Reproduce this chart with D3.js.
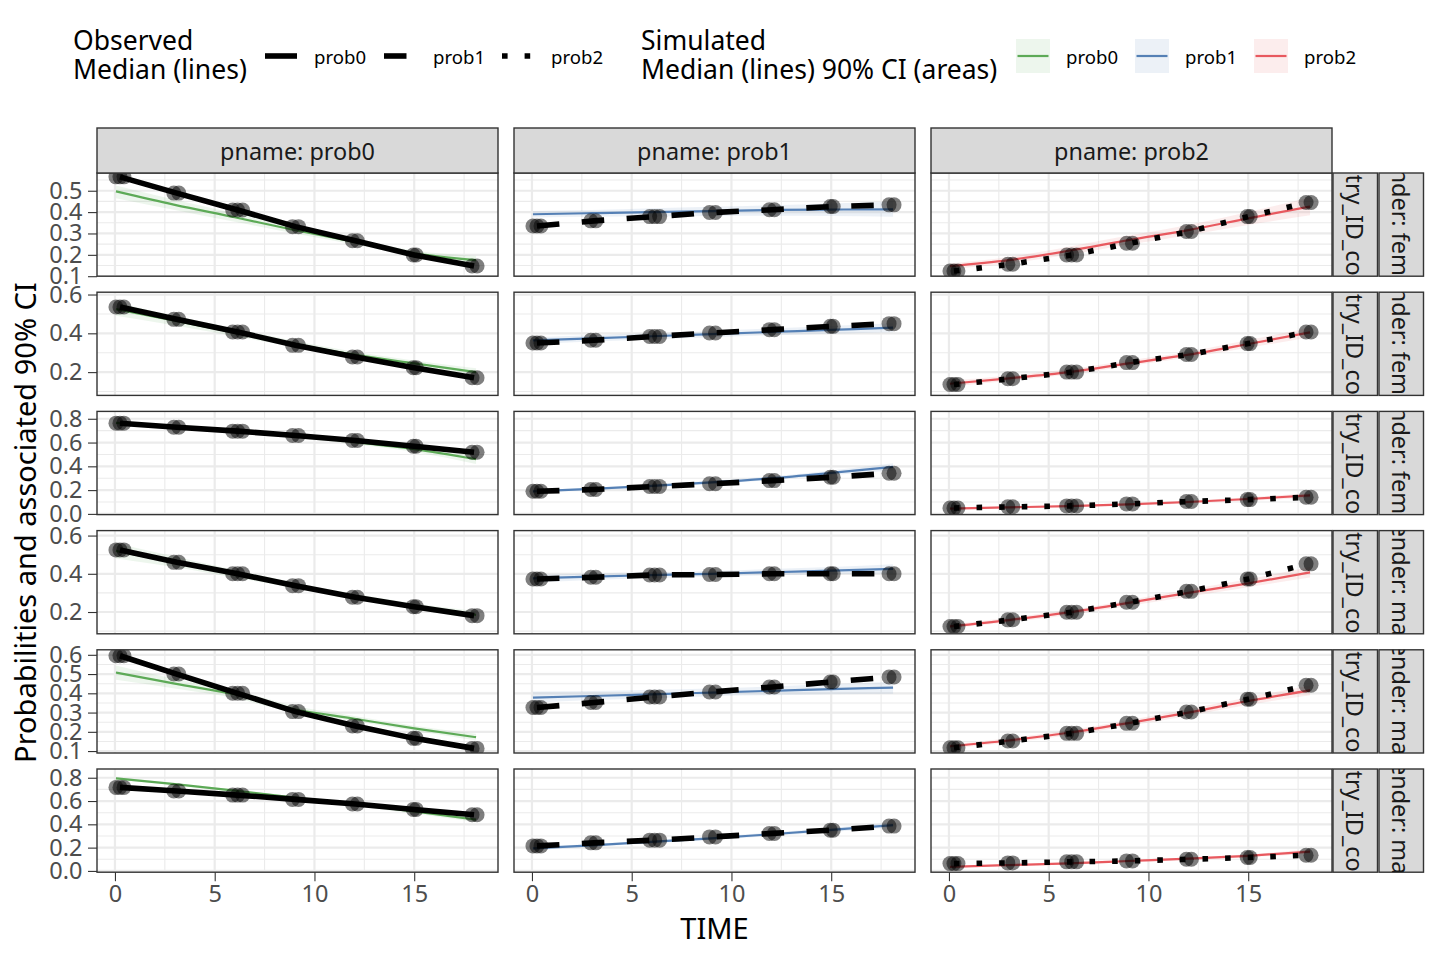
<!DOCTYPE html>
<html>
<head>
<meta charset="utf-8">
<script src="https://cdn.jsdelivr.net/npm/d3@7"></script>
<style>
  body { margin: 0; background: #fff; }
  svg text { font-family: "Noto Sans", "Open Sans", sans-serif; }
</style>
</head>
<body>
<div id="chart"></div>
<script>
// facets
const colLabels = ["pname: prob0", "pname: prob1", "pname: prob2"];
const rowLabels1 = ["country_ID_code: 1", "country_ID_code: 2", "country_ID_code: 3",
                    "country_ID_code: 1", "country_ID_code: 2", "country_ID_code: 3"];
const rowLabels2 = ["gender: female", "gender: female", "gender: female",
                    "gender: male", "gender: male", "gender: male"];

// y-axis per row (free scales by row)
const rowDomains = [[0.1, 0.583], [0.08, 0.612], [-0.006, 0.862],
                    [0.086, 0.626], [0.09, 0.626], [-0.011, 0.875]];
const rowTicks = [[0.1, 0.2, 0.3, 0.4, 0.5], [0.2, 0.4, 0.6], [0, 0.2, 0.4, 0.6, 0.8],
                  [0.2, 0.4, 0.6], [0.1, 0.2, 0.3, 0.4, 0.5, 0.6], [0, 0.2, 0.4, 0.6, 0.8]];
const xTicks = [0, 5, 10, 15];

// observed medians
const obsTime = [0.25, 3.1, 6.15, 9.05, 12.05, 15.0, 18.0];
const obsPointTimes = [[0.05, 0.25, 0.45], [2.95, 3.2], [5.9, 6.15, 6.4], [8.9, 9.2],
                       [11.9, 12.15], [14.95, 15.1], [17.9, 18.15]];
const obsProb0 = [
  [0.565, 0.489, 0.41, 0.332, 0.266, 0.199, 0.148],
  [0.536, 0.472, 0.407, 0.338, 0.278, 0.223, 0.171],
  [0.763, 0.729, 0.696, 0.659, 0.617, 0.569, 0.519],
  [0.525, 0.46, 0.40, 0.338, 0.277, 0.228, 0.181],
  [0.595, 0.50, 0.40, 0.305, 0.23, 0.166, 0.114],
  [0.717, 0.686, 0.651, 0.614, 0.574, 0.528, 0.482]];
const obsProb1 = [
  [0.335, 0.359, 0.379, 0.398, 0.411, 0.426, 0.434],
  [0.35, 0.364, 0.384, 0.402, 0.419, 0.436, 0.45],
  [0.19, 0.205, 0.23, 0.253, 0.28, 0.308, 0.342],
  [0.373, 0.382, 0.394, 0.396, 0.40, 0.40, 0.40],
  [0.326, 0.352, 0.381, 0.407, 0.433, 0.459, 0.485],
  [0.215, 0.241, 0.264, 0.292, 0.322, 0.35, 0.385]];
const obsProb2 = [
  [0.124, 0.156, 0.199, 0.254, 0.309, 0.379, 0.445],
  [0.136, 0.166, 0.20, 0.249, 0.291, 0.347, 0.407],
  [0.05, 0.059, 0.067, 0.084, 0.104, 0.12, 0.14],
  [0.124, 0.159, 0.199, 0.251, 0.308, 0.373, 0.452],
  [0.117, 0.152, 0.192, 0.244, 0.303, 0.369, 0.442],
  [0.063, 0.069, 0.078, 0.086, 0.10, 0.115, 0.135]];

// simulated median and 90% CI
const simTime = [0.05, 3, 6, 9, 12, 15, 18.1];
const simMed0 = [
  [0.497, 0.434, 0.376, 0.316, 0.261, 0.207, 0.175],
  [0.525, 0.465, 0.405, 0.345, 0.29, 0.245, 0.2],
  [0.765, 0.735, 0.70, 0.655, 0.605, 0.545, 0.46],
  [0.52, 0.46, 0.40, 0.34, 0.28, 0.23, 0.185],
  [0.508, 0.45, 0.395, 0.317, 0.268, 0.218, 0.172],
  [0.795, 0.745, 0.69, 0.63, 0.575, 0.51, 0.44]];
const simLo0 = [
  [0.465, 0.41, 0.355, 0.30, 0.248, 0.196, 0.155],
  [0.49, 0.44, 0.385, 0.33, 0.275, 0.23, 0.18],
  [0.75, 0.72, 0.685, 0.64, 0.585, 0.52, 0.42],
  [0.48, 0.435, 0.38, 0.325, 0.265, 0.215, 0.165],
  [0.47, 0.425, 0.375, 0.30, 0.255, 0.205, 0.155],
  [0.785, 0.735, 0.68, 0.62, 0.56, 0.49, 0.42]];
const simHi0 = [
  [0.525, 0.458, 0.395, 0.33, 0.275, 0.22, 0.195],
  [0.56, 0.49, 0.425, 0.36, 0.305, 0.26, 0.22],
  [0.78, 0.75, 0.715, 0.67, 0.625, 0.565, 0.49],
  [0.56, 0.49, 0.42, 0.355, 0.295, 0.245, 0.205],
  [0.545, 0.475, 0.415, 0.335, 0.282, 0.232, 0.19],
  [0.805, 0.755, 0.70, 0.64, 0.59, 0.53, 0.46]];
const simMed1 = [
  [0.39, 0.395, 0.40, 0.405, 0.41, 0.412, 0.413],
  [0.364, 0.374, 0.385, 0.396, 0.407, 0.418, 0.429],
  [0.19, 0.21, 0.235, 0.265, 0.30, 0.345, 0.395],
  [0.376, 0.385, 0.393, 0.40, 0.408, 0.417, 0.426],
  [0.378, 0.386, 0.395, 0.404, 0.413, 0.422, 0.43],
  [0.193, 0.22, 0.25, 0.28, 0.315, 0.352, 0.393]];
const simLo1 = [
  [0.375, 0.378, 0.38, 0.382, 0.383, 0.382, 0.378],
  [0.345, 0.358, 0.37, 0.38, 0.39, 0.398, 0.405],
  [0.18, 0.20, 0.225, 0.252, 0.285, 0.325, 0.365],
  [0.355, 0.368, 0.378, 0.386, 0.392, 0.398, 0.402],
  [0.35, 0.365, 0.375, 0.385, 0.39, 0.395, 0.398],
  [0.18, 0.208, 0.238, 0.268, 0.30, 0.335, 0.372]];
const simHi1 = [
  [0.405, 0.41, 0.418, 0.425, 0.432, 0.44, 0.45],
  [0.38, 0.39, 0.40, 0.412, 0.425, 0.438, 0.452],
  [0.20, 0.22, 0.245, 0.278, 0.315, 0.365, 0.425],
  [0.395, 0.402, 0.408, 0.415, 0.425, 0.436, 0.45],
  [0.41, 0.412, 0.418, 0.425, 0.435, 0.448, 0.46],
  [0.206, 0.232, 0.262, 0.293, 0.33, 0.37, 0.415]];
const simMed2 = [
  [0.147, 0.175, 0.219, 0.269, 0.316, 0.371, 0.426],
  [0.14, 0.168, 0.20, 0.245, 0.29, 0.345, 0.405],
  [0.045, 0.055, 0.065, 0.08, 0.10, 0.125, 0.155],
  [0.125, 0.158, 0.198, 0.248, 0.30, 0.35, 0.407],
  [0.125, 0.155, 0.195, 0.245, 0.30, 0.36, 0.415],
  [0.035, 0.05, 0.065, 0.085, 0.105, 0.13, 0.165]];
const simLo2 = [
  [0.135, 0.16, 0.20, 0.248, 0.292, 0.34, 0.385],
  [0.125, 0.155, 0.188, 0.232, 0.275, 0.325, 0.38],
  [0.04, 0.048, 0.057, 0.07, 0.088, 0.11, 0.135],
  [0.115, 0.146, 0.185, 0.232, 0.28, 0.33, 0.38],
  [0.115, 0.143, 0.182, 0.23, 0.283, 0.34, 0.39],
  [0.03, 0.043, 0.057, 0.075, 0.094, 0.117, 0.145]];
const simHi2 = [
  [0.16, 0.19, 0.238, 0.29, 0.34, 0.40, 0.47],
  [0.155, 0.182, 0.215, 0.26, 0.305, 0.365, 0.43],
  [0.05, 0.062, 0.073, 0.09, 0.112, 0.14, 0.175],
  [0.135, 0.17, 0.21, 0.262, 0.318, 0.372, 0.435],
  [0.135, 0.167, 0.208, 0.26, 0.317, 0.38, 0.44],
  [0.04, 0.057, 0.073, 0.095, 0.116, 0.143, 0.185]];

const obsByCol = [obsProb0, obsProb1, obsProb2];
const medByCol = [simMed0, simMed1, simMed2];
const loByCol = [simLo0, simLo1, simLo2];
const hiByCol = [simHi0, simHi1, simHi2];
const probNames = ["prob0", "prob1", "prob2"];
const simColors = ["#5DAA57", "#5580B5", "#E8595F"];
const dashes = [null, "22.5,22.5", "5.6,17"];

const width = 1440, height = 960;
const marginLeft = 97, marginTop = 173, panelW = 401, panelH = 103.2, gap = 16;

const svg = d3.select("#chart").append("svg")
  .attr("width", width).attr("height", height);

const x = d3.scaleLinear().domain([-0.9, 19.2]).range([0, panelW]);

const defs = svg.append("defs");
defs.append("clipPath").attr("id", "panelClip")
  .append("rect").attr("width", panelW).attr("height", panelH);

function minorTicks(ticks, domain) {
  const step = ticks[1] - ticks[0];
  const out = [];
  for (let v = ticks[0] - step / 2; v <= domain[1]; v += step) {
    if (v >= domain[0]) out.push(v);
  }
  return out;
}

rowDomains.forEach((dom, r) => {
  const py = marginTop + r * (panelH + gap);
  const y = d3.scaleLinear().domain(dom).range([panelH, 0]);

  colLabels.forEach((lab, c) => {
    const px = marginLeft + c * (panelW + gap);
    const g = svg.append("g").attr("transform", `translate(${px},${py})`);
    const inner = g.append("g").attr("clip-path", "url(#panelClip)");

    // grid
    inner.selectAll(".ymin").data(minorTicks(rowTicks[r], dom)).join("line")
      .attr("x1", 0).attr("x2", panelW).attr("y1", y).attr("y2", y)
      .attr("stroke", "#EBEBEB").attr("stroke-width", 1.1);
    inner.selectAll(".xmin").data([2.5, 7.5, 12.5, 17.5]).join("line")
      .attr("y1", 0).attr("y2", panelH).attr("x1", x).attr("x2", x)
      .attr("stroke", "#EBEBEB").attr("stroke-width", 1.1);
    inner.selectAll(".ymaj").data(rowTicks[r]).join("line")
      .attr("x1", 0).attr("x2", panelW).attr("y1", y).attr("y2", y)
      .attr("stroke", "#EBEBEB").attr("stroke-width", 2.2);
    inner.selectAll(".xmaj").data(xTicks).join("line")
      .attr("y1", 0).attr("y2", panelH).attr("x1", x).attr("x2", x)
      .attr("stroke", "#EBEBEB").attr("stroke-width", 2.2);

    // simulated ribbon + median
    const sim = simTime.map((t, i) => ({
      t, med: medByCol[c][r][i], lo: loByCol[c][r][i], hi: hiByCol[c][r][i]
    }));
    inner.append("path").datum(sim)
      .attr("d", d3.area().curve(d3.curveMonotoneX)
        .x(d => x(d.t)).y0(d => y(d.lo)).y1(d => y(d.hi)))
      .attr("fill", simColors[c]).attr("fill-opacity", 0.11);
    inner.append("path").datum(sim)
      .attr("d", d3.line().curve(d3.curveMonotoneX).x(d => x(d.t)).y(d => y(d.med)))
      .attr("fill", "none").attr("stroke", simColors[c]).attr("stroke-width", 2.2);

    // observed median line
    const obs = obsTime.map((t, i) => ({ t, v: obsByCol[c][r][i] }));
    inner.append("path").datum(obs)
      .attr("d", d3.line().x(d => x(d.t)).y(d => y(d.v)))
      .attr("fill", "none").attr("stroke", "#000").attr("stroke-width", 5.6)
      .attr("stroke-dasharray", dashes[c]);

    // observed points
    const pts = [];
    obsPointTimes.forEach((ts, i) => ts.forEach(t => pts.push({ t, v: obsByCol[c][r][i] })));
    inner.selectAll(".pt").data(pts).join("circle")
      .attr("cx", d => x(d.t)).attr("cy", d => y(d.v)).attr("r", 7.5)
      .attr("fill", "#000").attr("fill-opacity", 0.5);

    // border
    g.append("rect").attr("width", panelW).attr("height", panelH)
      .attr("fill", "none").attr("stroke", "#333333").attr("stroke-width", 1.4);

    // y axis on first column
    if (c === 0) {
      const ax = g.append("g").call(d3.axisLeft(y).tickValues(rowTicks[r])
        .tickFormat(d3.format(".1f")).tickSize(9).tickPadding(5.5));
      ax.select(".domain").remove();
      ax.selectAll("line").attr("stroke", "#333333").attr("stroke-width", 1.1);
      ax.selectAll("text").attr("fill", "#4D4D4D").style("font-size", "23.5px");
    }
    // x axis on last row
    if (r === rowDomains.length - 1) {
      const ax = g.append("g").attr("transform", `translate(0,${panelH})`)
        .call(d3.axisBottom(x).tickValues(xTicks).tickSize(9).tickPadding(4));
      ax.select(".domain").remove();
      ax.selectAll("line").attr("stroke", "#333333").attr("stroke-width", 1.1);
      ax.selectAll("text").attr("fill", "#4D4D4D").style("font-size", "23.5px");
    }
    // top strip
    if (r === 0) {
      const s = svg.append("g").attr("transform", `translate(${px},${py - 45})`);
      s.append("rect").attr("width", panelW).attr("height", 45)
        .attr("fill", "#D9D9D9").attr("stroke", "#333333").attr("stroke-width", 1.4);
      s.append("text").attr("x", panelW / 2).attr("y", 22.5)
        .attr("text-anchor", "middle").attr("dominant-baseline", "central")
        .attr("fill", "#1A1A1A").style("font-size", "23.4px").text(lab);
    }
  });

  // right strips
  [rowLabels1[r], rowLabels2[r]].forEach((lab, k) => {
    const sx = 1333 + k * 46;
    const id = `sclip${r}_${k}`;
    defs.append("clipPath").attr("id", id)
      .append("rect").attr("x", sx).attr("y", py).attr("width", 44.5).attr("height", panelH);
    const s = svg.append("g");
    s.append("rect").attr("x", sx).attr("y", py).attr("width", 44.5).attr("height", panelH)
      .attr("fill", "#D9D9D9").attr("stroke", "#333333").attr("stroke-width", 1.4);
    s.append("g").attr("clip-path", `url(#${id})`)
      .append("text")
      .attr("transform", `translate(${sx + 22.25},${py + panelH / 2}) rotate(90)`)
      .attr("text-anchor", "middle").attr("dominant-baseline", "central")
      .attr("fill", "#1A1A1A").style("font-size", "23.4px").text(lab);
  });
});

// axis titles
svg.append("text").attr("x", marginLeft + (3 * panelW + 2 * gap) / 2).attr("y", 939)
  .attr("text-anchor", "middle").style("font-size", "29px").attr("fill", "#000").text("TIME");
svg.append("text")
  .attr("transform", `translate(36,${marginTop + (6 * panelH + 5 * gap) / 2}) rotate(-90)`)
  .attr("text-anchor", "middle").style("font-size", "29px").attr("fill", "#000")
  .text("Probabilities and associated 90% CI");

// legend: observed
const leg = svg.append("g");
leg.append("text").attr("x", 73).attr("y", 50).style("font-size", "26.5px").text("Observed");
leg.append("text").attr("x", 73).attr("y", 79).style("font-size", "26.5px").text("Median (lines)");
const obsKeyX = [265, 384, 502];
probNames.forEach((p, i) => {
  leg.append("line").attr("x1", obsKeyX[i]).attr("x2", obsKeyX[i] + 32)
    .attr("y1", 56).attr("y2", 56).attr("stroke", "#000").attr("stroke-width", 5.6)
    .attr("stroke-dasharray", dashes[i]);
  leg.append("text").attr("x", obsKeyX[i] + 49).attr("y", 56)
    .attr("dominant-baseline", "central").style("font-size", "18.6px").text(p);
});

// legend: simulated
leg.append("text").attr("x", 641).attr("y", 50).style("font-size", "26.5px").text("Simulated");
leg.append("text").attr("x", 641).attr("y", 79).style("font-size", "26.5px")
  .text("Median (lines) 90% CI (areas)");
const simKeyX = [1016, 1135, 1254];
probNames.forEach((p, i) => {
  leg.append("rect").attr("x", simKeyX[i]).attr("y", 39).attr("width", 34).attr("height", 34)
    .attr("fill", simColors[i]).attr("fill-opacity", 0.11);
  leg.append("line").attr("x1", simKeyX[i] + 1.5).attr("x2", simKeyX[i] + 32.5)
    .attr("y1", 56).attr("y2", 56).attr("stroke", simColors[i]).attr("stroke-width", 2.2);
  leg.append("text").attr("x", simKeyX[i] + 50).attr("y", 56)
    .attr("dominant-baseline", "central").style("font-size", "18.6px").text(p);
});
</script>
</body>
</html>
